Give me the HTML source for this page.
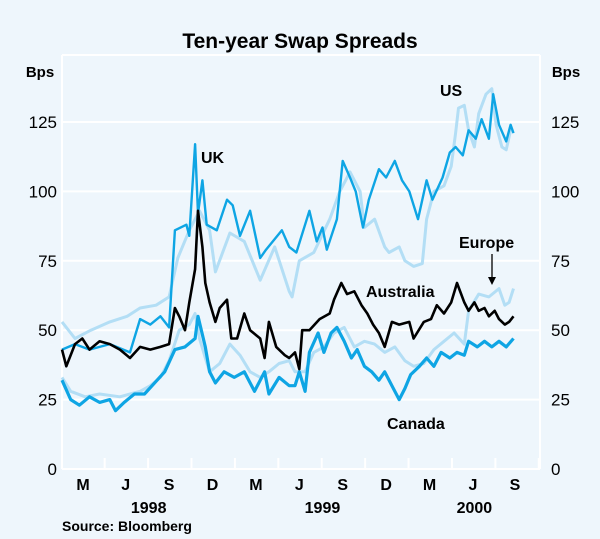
<!DOCTYPE html>
<html><head><meta charset="utf-8"><style>
html,body{margin:0;padding:0;background:#eef6fc;}
svg{display:block;font-family:"Liberation Sans",Arial,sans-serif;}
</style></head><body>
<svg id="chart" width="600" height="539" viewBox="0 0 600 539" xmlns="http://www.w3.org/2000/svg">
<rect x="0" y="0" width="600" height="539" fill="#eef6fc"/>
<text x="300" y="48" text-anchor="middle" font-size="21" font-weight="bold" fill="#000">Ten-year Swap Spreads</text>
<text x="40" y="77" text-anchor="middle" font-size="15" font-weight="bold">Bps</text>
<text x="566" y="77" text-anchor="middle" font-size="15" font-weight="bold">Bps</text>
<g id="grid"></g>
<g id="series"></g>
<g id="labels"></g>
<text x="201" y="163" font-size="16" font-weight="bold">UK</text>
<text x="440" y="96" font-size="16" font-weight="bold">US</text>
<text x="459" y="248" font-size="16" font-weight="bold">Europe</text>
<line x1="492" y1="254" x2="492" y2="278" stroke="#000" stroke-width="1.3"/>
<polygon points="488,277 496,277 492,285" fill="#000"/>
<text x="366" y="297" font-size="16" font-weight="bold">Australia</text>
<text x="387" y="429" font-size="16" font-weight="bold">Canada</text>
<text x="62" y="531" font-size="14" font-weight="bold">Source: Bloomberg</text>
</svg>
<script>
const yTicks = [0, 25, 50, 75, 100, 125];
const monthLabels = ["M","J","S","D","M","J","S","D","M","J","S"];
const monthLabelPos = [1.45,4.4,7.4,10.4,13.4,16.4,19.4,22.4,25.4,28.4,31.3];
const yearLabels = ["1998","1999","2000"];
const yearLabelPos = [5.99,18.0,28.5];
const quarterTicks = [3,6,9,12,15,18,21,24,27,30,33];

const ukSeries = [[0,43],[0.9,45],[1.9,43],[3.3,45],[4.7,42],[5.4,54],[6.1,52],[6.8,55],[7.4,51],[7.8,86],[8.6,88],[8.8,84],[9.2,117],[9.4,92],[9.7,104],[10,88],[10.7,86],[11.4,97],[11.8,95],[12.3,84],[13,93],[13.7,76],[14.1,79],[15.2,86],[15.7,80],[16.2,78],[17.1,93],[17.6,82],[18,87],[18.3,79],[19,90],[19.4,111],[19.9,105],[20.3,100],[20.8,87],[21.2,97],[21.9,108],[22.4,105],[23,111],[23.5,104],[24,100],[24.6,90],[25.2,104],[25.6,97],[26.3,105],[26.8,114],[27.2,116],[27.7,113],[28.1,122],[28.6,119],[29,126],[29.5,119],[29.8,135],[30.2,124],[30.7,118],[31,124],[31.2,121]];
const usSeries = [[0,53],[0.9,47],[2,50],[3.3,53],[4.5,55],[5.4,58],[6.5,59],[7.4,62],[8.0,76],[8.8,86],[9.5,93],[10.2,86],[10.6,71],[11.6,85],[12.6,82],[13.7,68],[14.7,80],[15.7,64],[15.9,62],[16.4,75],[17.4,78],[18.5,90],[19.2,100],[19.9,107],[20.6,100],[20.9,87],[21.6,90],[22.3,80],[22.6,78],[23.3,80],[23.7,75],[24.3,73],[24.9,74],[25.2,90],[25.7,100],[26.4,102],[26.9,109],[27.2,121],[27.4,130],[27.8,131],[28.1,122],[28.5,116],[28.8,128],[29.3,135],[29.7,137],[30,124],[30.4,116],[30.7,115],[31,122],[31.2,122]];
const australiaSeries = [[0,43],[0.3,37],[0.9,45],[1.4,47],[1.9,43],[2.6,46],[3.3,45],[4,43],[4.7,40],[5.4,44],[6.1,43],[6.8,44],[7.4,45],[7.8,58],[8.1,55],[8.5,50],[8.8,60],[9.2,72],[9.4,93],[9.7,80],[9.9,67],[10.2,60],[10.6,53],[10.9,58],[11.4,61],[11.7,47],[12.1,47],[12.6,56],[13,50],[13.7,47],[14,40],[14.3,53],[14.8,44],[15.4,41],[15.7,40],[16.1,42],[16.4,36],[16.6,50],[17.1,50],[17.8,54],[18.5,56],[18.8,61],[19.3,67],[19.7,63],[20.2,64],[20.7,59],[21.1,56],[21.5,52],[21.9,49],[22.3,44],[22.8,53],[23.3,52],[24,53],[24.3,47],[25,53],[25.5,54],[25.9,59],[26.4,56],[26.9,60],[27.3,67],[27.8,60],[28.1,57],[28.5,60],[28.8,57],[29.2,58],[29.5,55],[29.9,57],[30.2,54],[30.6,52],[30.9,53],[31.2,55]];
const europeSeries = [[0,33],[0.6,28],[1.6,26],[2.6,27],[4,26],[5.4,28],[6.1,30],[6.8,33],[7.4,39],[8.1,50],[8.8,52],[9.2,56],[9.5,47],[9.9,40],[10.2,35],[10.9,38],[11.6,45],[12.3,41],[13,35],[13.7,33],[14.3,35],[15,38],[15.7,39],[16.1,35],[16.8,35],[17.4,42],[18.1,44],[18.8,49],[19.5,51],[20.2,44],[20.9,46],[21.6,45],[22.3,42],[23,44],[23.7,39],[24.3,37],[25,38],[25.7,43],[26.4,46],[27.1,49],[27.8,45],[28.1,57],[28.8,63],[29.5,62],[30.2,65],[30.6,59],[30.9,60],[31.2,65]];
const canadaSeries = [[0,32],[0.6,25],[1.2,23],[1.9,26],[2.6,24],[3.3,25],[3.7,21],[4.3,24],[5,27],[5.7,27],[6.4,31],[7.1,35],[7.8,43],[8.5,44],[9.2,47],[9.4,55],[9.9,44],[10.2,35],[10.6,31],[11.2,35],[11.9,33],[12.6,35],[13.3,28],[14,35],[14.3,27],[15,33],[15.7,30],[16.1,30],[16.4,35],[16.8,28],[17.1,42],[17.7,49],[18.1,42],[18.6,49],[19,51],[19.5,46],[20,40],[20.4,43],[20.9,37],[21.4,35],[21.9,32],[22.3,35],[22.8,30],[23.3,25],[23.7,29],[24.1,34],[24.7,37],[25.2,40],[25.7,37],[26.2,42],[26.8,40],[27.3,42],[27.8,41],[28.1,46],[28.7,44],[29.2,46],[29.7,44],[30.2,46],[30.7,44],[31.2,47]];

const NS = "http://www.w3.org/2000/svg";
const L = 62, R = 540, T = 55, B = 469;
function xS(m){ return L + m * 14.47; }
function yS(v){ return B - v * 2.776; }
function mk(tag, attrs, parent){ const e = document.createElementNS(NS, tag); for (const k in attrs) e.setAttribute(k, attrs[k]); parent.appendChild(e); return e; }

const grid = document.getElementById('grid');
const lab = document.getElementById('labels');
yTicks.forEach(function(t){
  const g = mk('line', {x1:L, x2:R, y1:yS(t), y2:yS(t), stroke:'#ffffff', 'stroke-width':2}, grid);
  
  
  const a = mk('text', {x:L-5, y:yS(t)+6, 'text-anchor':'end', 'font-size':17}, lab);
  a.textContent = t;
  
  
  const b = mk('text', {x:R+11, y:yS(t)+6, 'text-anchor':'start', 'font-size':17}, lab);
  b.textContent = t;
  
  
});
[[L,T,L,B],[R,T,R,B],[L,T,R,T]].forEach(function(c){
  const f = mk('line', {x1:c[0], y1:c[1], x2:c[2], y2:c[3], stroke:'#ffffff', 'stroke-width':2}, grid);
  
  
});
quarterTicks.forEach(function(q){
  const x = xS(q - 0.05);
  if (x > R) return;
  const tk = mk('line', {x1:x, x2:x, y1:B, y2:B-11, stroke:'#ffffff', 'stroke-width':2}, grid);
  
  
});
monthLabels.forEach(function(m, i){
  const t = mk('text', {x:xS(monthLabelPos[i]), y:490, 'text-anchor':'middle', 'font-size':16, 'font-weight':'bold'}, lab);
  t.textContent = m;
  
  
});
yearLabels.forEach(function(y, i){
  const t = mk('text', {x:xS(yearLabelPos[i]), y:513, 'text-anchor':'middle', 'font-size':16, 'font-weight':'bold'}, lab);
  t.textContent = y;
  
  
});

const sg = document.getElementById('series');
function line(data, color, w, name){
  const d = data.map(function(p, i){ return (i ? 'L' : 'M') + xS(p[0]).toFixed(1) + ' ' + yS(p[1]).toFixed(1); }).join(' ');
  const p = mk('path', {d:d, fill:'none', stroke:color, 'stroke-width':w, 'stroke-linejoin':'round'}, sg);
  
  
}
line(europeSeries, '#b3def5', 3, 'europe-line');
line(usSeries, '#b3def5', 3, 'us-line');
line(canadaSeries, '#0ea5e4', 3.2, 'canada-line');
line(ukSeries, '#0ea5e4', 2.4, 'uk-line');
line(australiaSeries, '#000000', 2.6, 'australia-line');
</script>
</body></html>
